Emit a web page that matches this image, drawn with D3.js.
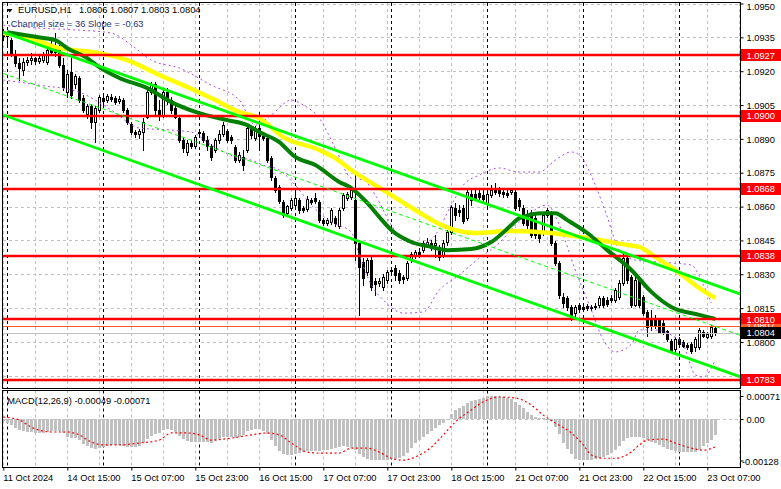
<!DOCTYPE html>
<html>
<head>
<meta charset="utf-8">
<script src="https://cdn.jsdelivr.net/npm/d3@7"></script>
<style>
  body { margin: 0; background: #fff; }
  svg { display: block; font-family: "Liberation Sans", Arial, sans-serif; }
</style>
</head>
<body>
<script>
// ==== Data ====

// hourly bars, 11 Oct 23:00 .. 23 Oct 09:00 : [open, high, low, close]
const candles = [
  [1.09373,1.09386,1.09338,1.09356],[1.09356,1.09378,1.09316,1.09369],[1.09338,1.09347,1.09267,1.09276],[1.09276,1.09294,1.09223,1.09236],
  [1.09236,1.09258,1.09161,1.09214],[1.09205,1.09258,1.09183,1.09240],[1.09240,1.09263,1.09227,1.09249],[1.09249,1.09280,1.09232,1.09258],
  [1.09258,1.09263,1.09232,1.09245],[1.09245,1.09271,1.09236,1.09258],[1.09249,1.09285,1.09240,1.09276],[1.09240,1.09302,1.09232,1.09294],
  [1.09294,1.09338,1.09271,1.09285],[1.09285,1.09369,1.09267,1.09298],[1.09302,1.09316,1.09218,1.09227],[1.09227,1.09258,1.09116,1.09130],
  [1.09107,1.09205,1.09085,1.09187],[1.09196,1.09258,1.09081,1.09094],[1.09143,1.09187,1.09125,1.09178],[1.09170,1.09178,1.09063,1.09072],
  [1.09081,1.09094,1.09019,1.09028],[1.09010,1.09054,1.08992,1.09045],[1.09045,1.09054,1.08948,1.08975],[1.08975,1.09045,1.08886,1.09037],
  [1.09028,1.09094,1.09019,1.09085],[1.09081,1.09094,1.09054,1.09068],[1.09072,1.09099,1.09063,1.09090],[1.09085,1.09099,1.09068,1.09076],
  [1.09081,1.09090,1.09054,1.09063],[1.09068,1.09090,1.09059,1.09076],[1.09072,1.09081,1.09019,1.09028],[1.09028,1.09037,1.08966,1.08975],
  [1.08966,1.08975,1.08921,1.08930],[1.08930,1.08939,1.08908,1.08921],[1.08921,1.08944,1.08904,1.08935],[1.08930,1.08992,1.08851,1.08975],
  [1.08997,1.09116,1.08992,1.09107],[1.09107,1.09152,1.09099,1.09138],[1.09143,1.09152,1.09006,1.09028],[1.09028,1.09072,1.08983,1.09006],
  [1.09006,1.09116,1.08997,1.09107],[1.09107,1.09125,1.09054,1.09072],[1.09072,1.09085,1.09014,1.09028],[1.09037,1.09050,1.08992,1.08997],
  [1.08992,1.09001,1.08886,1.08895],[1.08895,1.08904,1.08842,1.08859],[1.08842,1.08895,1.08828,1.08882],[1.08882,1.08895,1.08859,1.08868],
  [1.08868,1.08917,1.08859,1.08908],[1.08930,1.08939,1.08913,1.08926],[1.08926,1.08935,1.08886,1.08895],[1.08895,1.08913,1.08851,1.08868],
  [1.08868,1.08877,1.08806,1.08820],[1.08851,1.08904,1.08842,1.08895],[1.08895,1.08939,1.08882,1.08921],[1.08921,1.08975,1.08913,1.08961],
  [1.08935,1.08944,1.08886,1.08895],[1.08908,1.08917,1.08882,1.08895],[1.08864,1.08873,1.08797,1.08806],[1.08806,1.08842,1.08797,1.08828],
  [1.08820,1.08851,1.08762,1.08784],[1.08851,1.08957,1.08842,1.08948],[1.08948,1.08957,1.08904,1.08917],[1.08904,1.08957,1.08895,1.08948],
  [1.08948,1.09019,1.08851,1.08913],[1.08913,1.08926,1.08895,1.08904],[1.08904,1.08913,1.08797,1.08806],[1.08815,1.08824,1.08718,1.08731],
  [1.08726,1.08735,1.08664,1.08673],[1.08687,1.08695,1.08616,1.08625],[1.08620,1.08629,1.08554,1.08563],[1.08571,1.08607,1.08558,1.08603],
  [1.08594,1.08638,1.08585,1.08629],[1.08607,1.08682,1.08594,1.08638],[1.08629,1.08638,1.08571,1.08585],[1.08594,1.08603,1.08576,1.08585],
  [1.08589,1.08647,1.08580,1.08634],[1.08629,1.08638,1.08611,1.08620],[1.08638,1.08660,1.08616,1.08625],[1.08620,1.08629,1.08532,1.08540],
  [1.08540,1.08549,1.08518,1.08527],[1.08527,1.08549,1.08518,1.08540],[1.08532,1.08594,1.08523,1.08585],[1.08549,1.08558,1.08514,1.08527],
  [1.08514,1.08594,1.08505,1.08585],[1.08594,1.08660,1.08585,1.08651],[1.08638,1.08664,1.08629,1.08656],[1.08643,1.08682,1.08634,1.08673],
  [1.08629,1.08740,1.08363,1.08439],[1.08439,1.08452,1.08120,1.08332],[1.08354,1.08372,1.08253,1.08284],[1.08310,1.08372,1.08297,1.08363],
  [1.08363,1.08385,1.08230,1.08244],[1.08271,1.08284,1.08208,1.08257],[1.08262,1.08284,1.08248,1.08271],[1.08244,1.08302,1.08230,1.08288],
  [1.08275,1.08319,1.08262,1.08310],[1.08319,1.08332,1.08306,1.08315],[1.08328,1.08341,1.08275,1.08297],[1.08306,1.08319,1.08262,1.08275],
  [1.08288,1.08297,1.08262,1.08279],[1.08284,1.08359,1.08275,1.08350],[1.08363,1.08399,1.08354,1.08390],[1.08385,1.08407,1.08372,1.08399],
  [1.08399,1.08416,1.08377,1.08385],[1.08407,1.08448,1.08399,1.08439],[1.08430,1.08461,1.08421,1.08443],[1.08439,1.08452,1.08407,1.08421],
  [1.08430,1.08474,1.08377,1.08439],[1.08421,1.08430,1.08363,1.08377],[1.08385,1.08452,1.08377,1.08439],[1.08443,1.08496,1.08430,1.08487],
  [1.08487,1.08607,1.08478,1.08598],[1.08594,1.08616,1.08540,1.08563],[1.08585,1.08607,1.08558,1.08576],[1.08594,1.08607,1.08527,1.08536],
  [1.08549,1.08673,1.08540,1.08664],[1.08656,1.08673,1.08607,1.08629],[1.08656,1.08673,1.08629,1.08638],[1.08660,1.08682,1.08629,1.08643],
  [1.08651,1.08673,1.08625,1.08634],[1.08616,1.08664,1.08603,1.08656],[1.08651,1.08695,1.08643,1.08673],[1.08682,1.08704,1.08656,1.08664],
  [1.08673,1.08687,1.08647,1.08660],[1.08664,1.08678,1.08643,1.08656],[1.08660,1.08673,1.08643,1.08651],[1.08664,1.08682,1.08656,1.08673],
  [1.08664,1.08673,1.08585,1.08594],[1.08629,1.08638,1.08585,1.08603],[1.08594,1.08607,1.08518,1.08527],[1.08563,1.08585,1.08505,1.08518],
  [1.08563,1.08585,1.08465,1.08474],[1.08549,1.08563,1.08461,1.08474],[1.08483,1.08496,1.08443,1.08461],[1.08487,1.08571,1.08474,1.08563],
  [1.08563,1.08594,1.08554,1.08585],[1.08571,1.08580,1.08430,1.08439],[1.08439,1.08448,1.08341,1.08350],[1.08350,1.08359,1.08195,1.08208],
  [1.08199,1.08217,1.08155,1.08173],[1.08195,1.08204,1.08142,1.08155],[1.08155,1.08164,1.08098,1.08111],[1.08128,1.08164,1.08107,1.08155],
  [1.08164,1.08173,1.08133,1.08146],[1.08155,1.08168,1.08137,1.08146],[1.08159,1.08168,1.08142,1.08151],[1.08155,1.08164,1.08142,1.08151],
  [1.08159,1.08173,1.08146,1.08155],[1.08164,1.08204,1.08155,1.08195],[1.08195,1.08204,1.08155,1.08164],[1.08186,1.08199,1.08159,1.08168],
  [1.08195,1.08208,1.08177,1.08186],[1.08186,1.08239,1.08177,1.08230],[1.08199,1.08275,1.08190,1.08262],[1.08262,1.08394,1.08253,1.08372],
  [1.08372,1.08381,1.08262,1.08275],[1.08288,1.08297,1.08155,1.08164],[1.08164,1.08293,1.08159,1.08275],[1.08284,1.08293,1.08155,1.08164],
  [1.08199,1.08208,1.08120,1.08128],[1.08133,1.08142,1.08025,1.08068],[1.08107,1.08142,1.08055,1.08072],[1.08098,1.08120,1.08064,1.08076],
  [1.08098,1.08107,1.08038,1.08042],[1.08084,1.08098,1.08034,1.08042],[1.08047,1.08055,1.08003,1.08012],[1.08003,1.08012,1.07956,1.07960],
  [1.07969,1.08021,1.07947,1.08012],[1.08012,1.08021,1.07982,1.07990],[1.07999,1.08008,1.07977,1.07982],[1.07986,1.07995,1.07969,1.07977],
  [1.07990,1.07999,1.07952,1.07960],[1.07977,1.08021,1.07960,1.08012],[1.07977,1.08064,1.07969,1.08055],[1.08042,1.08051,1.08021,1.08025],
  [1.08021,1.08042,1.08016,1.08034],[1.08025,1.08076,1.08016,1.08068],[1.0806,1.0807,1.0803,1.0804]
];

// moving averages read at sample bars: [bar, price]
const maSlow = [[0,1.09369],[7,1.09347],[13,1.09307],[24,1.09280],[31,1.09249],[39,1.09183],[46,1.09130],[53,1.09072],
  [59,1.09019],[64,1.08992],[70,1.08908],[79,1.08851],[83,1.08815],[87,1.08762],[95,1.08673],[103,1.08585],[108,1.08532],
  [113,1.08496],[118,1.08483],[127,1.08492],[137,1.08483],[146,1.08461],[156,1.08430],[159,1.08421],[163,1.08377],
  [169,1.08306],[174,1.08239],[178,1.08195]];
const maFast = [[1,1.09373],[10,1.09347],[13,1.09338],[16,1.09302],[21,1.09258],[24,1.09218],[29,1.09170],[36,1.09125],
  [42,1.09063],[49,1.09014],[56,1.08983],[61,1.08961],[64,1.08930],[69,1.08886],[73,1.08820],[78,1.08784],[84,1.08709],
  [87,1.08682],[91,1.08616],[94,1.08554],[97,1.08496],[102,1.08443],[107,1.08421],[111,1.08407],[117,1.08412],[122,1.08443],
  [127,1.08518],[129,1.08549],[135,1.08571],[138,1.08571],[141,1.08540],[146,1.08483],[151,1.08407],[157,1.08319],
  [162,1.08222],[167,1.08155],[174,1.08120],[178,1.08102]];

// envelope bands: [bar, price]
const bandUpper = [[0,1.09404],[9,1.09391],[19,1.09382],[27,1.09369],[32,1.09316],[37,1.09249],[44,1.09214],[52,1.09138],
  [59,1.09072],[63,1.08961],[67,1.09006],[72,1.09072],[75,1.09050],[79,1.08992],[83,1.08859],[87,1.08726],[90,1.08718],
  [93,1.08651],[97,1.08518],[100,1.08452],[104,1.08430],[108,1.08474],[112,1.08607],[115,1.08695],[119,1.08740],
  [124,1.08771],[129,1.08753],[134,1.08753],[138,1.08806],[142,1.08842],[144,1.08829],[148,1.08695],[151,1.08554],
  [154,1.08407],[158,1.08363],[164,1.08354],[172,1.08341],[175,1.08253],[177,1.08173]];
const bandLower = [[0,1.09161],[9,1.09138],[19,1.09107],[27,1.09028],[34,1.08948],[42,1.08939],[47,1.08930],[52,1.08873],
  [58,1.08820],[62,1.08806],[65,1.08784],[69,1.08762],[73,1.08695],[77,1.08607],[82,1.08532],[87,1.08487],[89,1.08385],
  [92,1.08253],[95,1.08186],[100,1.08128],[105,1.08133],[109,1.08230],[114,1.08297],[119,1.08372],[124,1.08439],
  [128,1.08518],[132,1.08576],[136,1.08607],[139,1.08518],[143,1.08319],[147,1.08142],[150,1.08009],[153,1.07956],
  [157,1.07990],[159,1.08053],[163,1.08053],[167,1.08031],[170,1.07987],[173,1.07854],[175,1.07845],[178,1.07920]];

// regression channel ends
const channelBars = [0, 184.3];
const channelTop = [1.09373, 1.08212];
const channelMid = [1.09190, 1.08029];
const channelBottom = [1.09006, 1.07845];

// horizontal levels
const levels = [1.0927, 1.0900, 1.0868, 1.0838, 1.0810, 1.0783];
const askPrice = 1.0807;
const bidPrice = 1.0804;

// MACD(12,26,9), one value per bar
const macdHist = [-0.00006,-0.00012,-0.00019,-0.00028,-0.00034,-0.00037,-0.00040,-0.00040,-0.00043,-0.00043,
  -0.00043,-0.00040,-0.00037,-0.00037,-0.00037,-0.00043,-0.00056,-0.00059,-0.00059,-0.00065,
  -0.00077,-0.00083,-0.00090,-0.00093,-0.00090,-0.00087,-0.00083,-0.00080,-0.00080,-0.00080,
  -0.00083,-0.00087,-0.00087,-0.00087,-0.00083,-0.00074,-0.00062,-0.00053,-0.00046,-0.00043,
  -0.00034,-0.00031,-0.00034,-0.00040,-0.00053,-0.00062,-0.00068,-0.00071,-0.00071,-0.00071,
  -0.00071,-0.00071,-0.00074,-0.00068,-0.00062,-0.00056,-0.00056,-0.00056,-0.00059,-0.00056,
  -0.00049,-0.00037,-0.00034,-0.00031,-0.00031,-0.00037,-0.00046,-0.00065,-0.00083,-0.00099,
  -0.00108,-0.00111,-0.00111,-0.00108,-0.00105,-0.00102,-0.00099,-0.00099,-0.00099,-0.00099,
  -0.00096,-0.00096,-0.00093,-0.00090,-0.00087,-0.00083,-0.00087,-0.00090,-0.00096,-0.00108,
  -0.00117,-0.00124,-0.00127,-0.00128,-0.00128,-0.00127,-0.00127,-0.00124,-0.00124,-0.00121,
  -0.00114,-0.00105,-0.00090,-0.00074,-0.00065,-0.00056,-0.00046,-0.00037,-0.00028,-0.00019,
  -0.00012,-0.00002,0.00015,0.00028,0.00034,0.00040,0.00049,0.00056,0.00059,0.00062,
  0.00065,0.00070,0.00071,0.00071,0.00068,0.00068,0.00065,0.00062,0.00053,0.00043,
  0.00034,0.00022,0.00012,0.00006,0.00003,0.00003,-0.00001,-0.00006,-0.00025,-0.00046,
  -0.00074,-0.00093,-0.00108,-0.00124,-0.00128,-0.00128,-0.00128,-0.00127,-0.00124,-0.00121,
  -0.00117,-0.00111,-0.00105,-0.00096,-0.00083,-0.00068,-0.00059,-0.00056,-0.00056,-0.00056,
  -0.00059,-0.00065,-0.00071,-0.00074,-0.00080,-0.00087,-0.00093,-0.00096,-0.00099,-0.00102,
  -0.00102,-0.00102,-0.00102,-0.00102,-0.00096,-0.00083,-0.00074,-0.00065,-0.00049];
const macdSignal = [[0,0.00006],[4,-0.00003],[7,-0.00025],[12,-0.00040],[16,-0.00040],[19,-0.00049],[22,-0.00071],
  [25,-0.00080],[29,-0.00080],[34,-0.00074],[39,-0.00065],[42,-0.00043],[46,-0.00043],[49,-0.00049],[52,-0.00065],
  [57,-0.00059],[62,-0.00049],[66,-0.00043],[69,-0.00049],[72,-0.00074],[76,-0.00102],[79,-0.00105],[84,-0.00105],
  [87,-0.00090],[91,-0.00090],[94,-0.00102],[97,-0.00121],[100,-0.00127],[103,-0.00117],[107,-0.00087],[110,-0.00049],
  [113,-0.00009],[117,0.00028],[120,0.00053],[124,0.00068],[128,0.00065],[132,0.00043],[135,0.00012],[138,-0.00012],
  [142,-0.00043],[145,-0.00080],[147,-0.00111],[150,-0.00121],[153,-0.00121],[157,-0.00102],[159,-0.00080],
  [161,-0.00065],[165,-0.00062],[168,-0.00074],[172,-0.00090],[175,-0.00096],[178,-0.00086]];

// axes
const priceTicks = [1.0950, 1.0935, 1.0920, 1.0905, 1.0890, 1.0875, 1.0860, 1.0845, 1.0830, 1.0815, 1.0800, 1.0785];
const hiddenTickLabels = [1.0785];   // covered by the 1.0783 box in the picture
const macdTicks = [0.00071, 0, -0.00128];
const xLabels = ["11 Oct 2024","14 Oct 15:00","15 Oct 07:00","15 Oct 23:00","16 Oct 15:00","17 Oct 07:00",
  "17 Oct 23:00","18 Oct 15:00","21 Oct 07:00","21 Oct 23:00","22 Oct 15:00","23 Oct 07:00"];
const xLabelBars = [0,16,32,48,64,80,96,112,128,144,160,176];
const daySeparatorBars = [1,25,49,73,97,121,145,169];

// ==== Layout ====
const W = 781, H = 489;
const left = 3, right = 740.5;
const mainTop = 3, mainBottom = 388;
const macdTop = 390.5, macdBottom = 467.5;
const font = "9.3px";

const svg = d3.select("body").append("svg")
  .attr("width", W).attr("height", H);

const x = d3.scaleLinear().domain([0, 184.3]).range([3.3, 740.5]);
const y = d3.scaleLinear().domain([1.07796, 1.0950]).range([388, 3.5]);
const ym = d3.scaleLinear().domain([-0.00128, 0.00071]).range([460.5, 396]);
const crisp = v => Math.round(v) + 0.5;
const cx = i => crisp(x(i));

const defs = svg.append("defs");
defs.append("clipPath").attr("id", "clipMain").append("rect")
  .attr("x", left).attr("y", mainTop).attr("width", right - left).attr("height", mainBottom - mainTop);
defs.append("clipPath").attr("id", "clipMacd").append("rect")
  .attr("x", left).attr("y", macdTop).attr("width", right - left).attr("height", macdBottom - macdTop);

const main = svg.append("g").attr("clip-path", "url(#clipMain)");
const macd = svg.append("g").attr("clip-path", "url(#clipMacd)");

// === Grid ===
main.selectAll(".hgrid").data(priceTicks).join("line")
  .attr("x1", left).attr("x2", right)
  .attr("y1", d => crisp(y(d))).attr("y2", d => crisp(y(d)))
  .attr("stroke", "#c0c0c0").attr("stroke-dasharray", "3,3");

const gridBars = d3.range(0, 185, 8);
[[main, mainTop, mainBottom], [macd, macdTop, macdBottom]].forEach(([g, t, b]) => {
  g.selectAll(".vgrid").data(gridBars.filter(d => !daySeparatorBars.includes(d))).join("line")
    .attr("x1", d => cx(d)).attr("x2", d => cx(d)).attr("y1", t).attr("y2", b)
    .attr("stroke", "#c0c0c0").attr("stroke-dasharray", "3,3");
  g.selectAll(".sep").data(daySeparatorBars).join("line")
    .attr("x1", d => cx(d)).attr("x2", d => cx(d)).attr("y1", t).attr("y2", b)
    .attr("stroke", "#000").attr("stroke-dasharray", "3,3");
});

macd.append("line")
  .attr("x1", left).attr("x2", right)
  .attr("y1", crisp(ym(0))).attr("y2", crisp(ym(0)))
  .attr("stroke", "#c0c0c0").attr("stroke-dasharray", "3,3");

// === Candles ===
const bars = main.append("g");
candles.forEach((d, i) => {
  const [o, h, l, c] = d;
  const xc = cx(i);
  bars.append("line")
    .attr("x1", xc).attr("x2", xc)
    .attr("y1", Math.round(y(h))).attr("y2", Math.round(y(l)) + 1)
    .attr("stroke", "#000");
  const t = crisp(y(Math.max(o, c))), b = crisp(y(Math.min(o, c)));
  if (b - t < 1) {
    bars.append("line").attr("x1", xc - 1.5).attr("x2", xc + 1.5)
      .attr("y1", t).attr("y2", t).attr("stroke", "#000");
  } else {
    bars.append("rect")
      .attr("x", xc - 1).attr("y", t).attr("width", 2).attr("height", b - t)
      .attr("fill", c >= o ? "#fff" : "#000").attr("stroke", "#000");
  }
});

// === Indicators ===
const curve = d3.line().x(d => x(d[0])).y(d => y(d[1])).curve(d3.curveMonotoneX);

main.append("path").datum(bandUpper).attr("d", curve)
  .attr("fill", "none").attr("stroke", "#a94fe0").attr("stroke-width", 1).attr("stroke-dasharray", "2,3");
main.append("path").datum(bandLower).attr("d", curve)
  .attr("fill", "none").attr("stroke", "#a94fe0").attr("stroke-width", 1).attr("stroke-dasharray", "2,3");

main.append("path").datum(maSlow).attr("d", curve)
  .attr("fill", "none").attr("stroke", "#ffff00").attr("stroke-width", 4.5);
main.append("path").datum(maFast).attr("d", curve)
  .attr("fill", "none").attr("stroke", "#008000").attr("stroke-width", 4);

// === Levels and price lines ===
main.selectAll(".level").data(levels).join("line")
  .attr("x1", left).attr("x2", right)
  .attr("y1", d => Math.round(y(d))).attr("y2", d => Math.round(y(d)))
  .attr("stroke", "#ff0000").attr("stroke-width", 2.5);

main.append("line").attr("x1", left).attr("x2", right)
  .attr("y1", crisp(y(askPrice))).attr("y2", crisp(y(askPrice)))
  .attr("stroke", "#ff5a1f");
main.append("line").attr("x1", left).attr("x2", right)
  .attr("y1", crisp(y(bidPrice))).attr("y2", crisp(y(bidPrice)))
  .attr("stroke", "#c0c0c0");

// === Channel ===
const chLine = d3.line().x(d => x(d[0])).y(d => y(d[1]));
const zipCh = vals => channelBars.map((b, k) => [b, vals[k]]);
main.append("path").datum(zipCh(channelTop)).attr("d", chLine)
  .attr("fill", "none").attr("stroke", "#00ff00").attr("stroke-width", 2.8);
main.append("path").datum(zipCh(channelBottom)).attr("d", chLine)
  .attr("fill", "none").attr("stroke", "#00ff00").attr("stroke-width", 2.8);
main.append("path").datum(zipCh(channelMid)).attr("d", chLine)
  .attr("fill", "none").attr("stroke", "#00ff00").attr("stroke-width", 1).attr("stroke-dasharray", "4,3");

// === MACD ===
macd.selectAll(".hist").data(macdHist).join("rect")
  .attr("x", (d, i) => Math.round(x(i)) - 1)
  .attr("width", 3)
  .attr("y", d => Math.round(Math.min(ym(0), ym(d))))
  .attr("height", d => Math.max(1, Math.round(Math.abs(ym(d) - ym(0)))))
  .attr("fill", "#c0c0c0");

macd.append("path").datum(macdSignal)
  .attr("d", d3.line().x(d => x(d[0])).y(d => ym(d[1])).curve(d3.curveMonotoneX))
  .attr("fill", "none").attr("stroke", "#ff0000").attr("stroke-width", 1.2).attr("stroke-dasharray", "2,2.5");

// === Frames ===
const frame = svg.append("g").attr("stroke", "#000").attr("fill", "none");
frame.append("rect").attr("x", 2.5).attr("y", 2.5).attr("width", right - 2.5).attr("height", mainBottom + 0.5 - 2.5);
frame.append("rect").attr("x", 2.5).attr("y", macdTop).attr("width", right - 2.5).attr("height", macdBottom - macdTop);

// === Axes ===
const yAxis = d3.axisRight(y).tickValues(priceTicks)
  .tickFormat(d => hiddenTickLabels.includes(d) ? "" : d3.format(".4f")(d))
  .tickSize(3).tickSizeOuter(0);
const gy = svg.append("g").attr("transform", `translate(${right},0)`).call(yAxis);
gy.select(".domain").remove();
gy.selectAll("text").attr("font-size", font).attr("font-family", "Liberation Sans, Arial, sans-serif")
  .attr("fill", "#000").attr("x", 6)
  .attr("dy", (d) => d === 1.0950 ? "0.62em" : "0.34em");

const mAxis = d3.axisRight(ym).tickValues(macdTicks)
  .tickFormat(d => d === 0 ? "0.00" : d.toFixed(5)).tickSize(3).tickSizeOuter(0);
const gm = svg.append("g").attr("transform", `translate(${right},0)`).call(mAxis);
gm.select(".domain").remove();
gm.selectAll("text").attr("font-size", font).attr("font-family", "Liberation Sans, Arial, sans-serif")
  .attr("fill", "#000").attr("x", d => d < 0 ? 1.5 : 6).attr("dy", d => d < 0 ? "0.45em" : "0.34em");

const xAxis = d3.axisBottom(x).tickValues(xLabelBars).tickFormat((d, i) => xLabels[i]).tickSize(3).tickSizeOuter(0);
const gx = svg.append("g").attr("transform", `translate(0,${macdBottom})`).call(xAxis);
gx.select(".domain").remove();
gx.selectAll("text").attr("font-size", font).attr("font-family", "Liberation Sans, Arial, sans-serif")
  .attr("fill", "#000").attr("text-anchor", "start").attr("x", -0.5).attr("y", 6.5);

// === Price boxes ===
// the ask box sits between the 1.0810 and 1.0804 boxes; only a thin strip of it shows
defs.append("clipPath").attr("id", "clipAsk").append("rect")
  .attr("x", 741).attr("y", Math.round(y(1.0810)) + 5).attr("width", 40)
  .attr("height", Math.round(y(bidPrice)) - Math.round(y(1.0810)) - 11);

function priceBox(v, fill, textFill, clip) {
  const yc = y(v);
  const g = svg.append("g");
  if (clip) g.attr("clip-path", `url(#${clip})`);
  g.append("rect").attr("x", 741).attr("y", Math.round(yc) - 6).attr("width", 40).attr("height", 12).attr("fill", fill);
  g.append("text").attr("x", 746.5).attr("y", yc).attr("dy", "0.34em")
    .attr("font-size", font).attr("fill", textFill).text(v.toFixed(4));
}
levels.forEach(v => priceBox(v, "#ff0000", "#ffffff"));
priceBox(askPrice, "#ff5a1f", "#ffffff", "clipAsk");
priceBox(bidPrice, "#000000", "#ffffff");

// === Texts ===
svg.append("path").attr("d", "M7,9 L12.5,9 L9.75,12.5 Z").attr("fill", "#000");
svg.append("text").attr("x", 18).attr("y", 13).attr("font-size", font).text("EURUSD,H1");
svg.append("text").attr("x", 79).attr("y", 13).attr("font-size", font).text("1.0806 1.0807 1.0803 1.0804");
svg.append("text").attr("x", 10.7).attr("y", 26.7).attr("font-size", font).attr("fill", "#1f3470")
  .text("Channel size = 36 Slope = -0.63");
svg.append("text").attr("x", 7.3).attr("y", 403.5).attr("font-size", font)
  .text("MACD(12,26,9) -0.00049 -0.00071");
</script>
</body>
</html>
